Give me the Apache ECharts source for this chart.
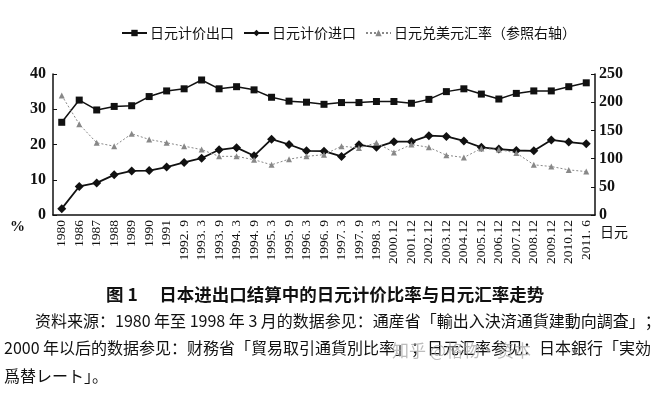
<!DOCTYPE html>
<html>
<head>
<meta charset="utf-8">
<script src="https://cdn.jsdelivr.net/npm/echarts@6/dist/echarts.min.js"></script>
<style>
html,body{margin:0;padding:0;background:#fff;}
#c{width:663px;height:400px;}
</style>
</head>
<body>
<div id="c"></div>
<script>
var categories = ['1980','1986','1987','1988','1989','1990','1991','1992. 9','1993. 3','1993. 9','1994. 3','1994. 9','1995. 3','1995. 9','1996. 3','1996. 9','1997. 3','1997. 9','1998. 3','2000.12','2001.12','2002.12','2003.12','2004.12','2005.12','2006.12','2007.12','2008.12','2009.12','2010.12','2011. 6'];
var exportShare = [26.3,32.6,29.8,30.8,31.0,33.6,35.2,35.8,38.3,35.8,36.4,35.5,33.4,32.3,32.0,31.4,31.9,31.9,32.2,32.2,31.7,32.8,35.0,35.8,34.3,32.9,34.5,35.2,35.2,36.4,37.5];
var importShare = [1.8,8.1,9.1,11.4,12.5,12.6,13.6,14.9,16.1,18.5,19.1,16.8,21.5,20.0,18.2,18.1,16.6,19.9,19.2,20.8,20.8,22.5,22.3,21.0,19.2,18.7,18.3,18.2,21.3,20.7,20.2];
var yenRate = [212,161,128,122,144,134,128,122,116,104,104,98,89,99,104,107,122,119,128,111,125,120,106,102,118,116,110,89,86,80,77];
var leftTicks = [0,10,20,30,40];
var rightTicks = [0,50,100,150,200,250];

var serif = 'Liberation Serif, DejaVu Serif, serif';
var cjk = 'Noto Sans CJK SC, sans-serif';

var chart = echarts.init(document.getElementById('c'));
chart.setOption({
  animation: false,
  backgroundColor: '#fff',
  legend: {
    left: 116, top: 21,
    itemWidth: 25, itemHeight: 8, itemGap: 9,
    textStyle: {fontFamily: cjk, fontSize: 14, color: '#111', padding: [0,0,0,-2]},
    data: ['日元计价出口','日元计价进口','日元兑美元汇率（参照右轴）']
  },
  grid: {left: 53, right: 68, top: 74, bottom: 185},
  xAxis: {
    type: 'category', data: categories, boundaryGap: true,
    axisLine: {lineStyle: {color: '#111', width: 1.5}},
    axisTick: {inside: true, length: 4, lineStyle: {color: '#111'}},
    axisLabel: {rotate: 90, interval: 0, fontFamily: serif, fontSize: 13.5, color: '#111', margin: 5}
  },
  yAxis: [{
    type: 'value', min: leftTicks[0], max: leftTicks[leftTicks.length-1], interval: 10,
    axisLine: {show: true, lineStyle: {color: '#111', width: 1.5}},
    axisTick: {show: true, inside: true, length: 4, lineStyle: {color: '#111'}},
    axisLabel: {fontFamily: serif, fontSize: 16, fontWeight: 'bold', color: '#111', margin: 7},
    splitLine: {show: false}
  },{
    type: 'value', min: rightTicks[0], max: rightTicks[rightTicks.length-1], interval: 50,
    position: 'right',
    axisLine: {show: true, lineStyle: {color: '#111', width: 1.5}},
    axisTick: {show: true, inside: true, length: 4, lineStyle: {color: '#111'}},
    axisLabel: {fontFamily: serif, fontSize: 16, fontWeight: 'bold', color: '#111', margin: 4},
    splitLine: {show: false}
  }],
  series: [{
    name: '日元计价出口', type: 'line', data: exportShare, yAxisIndex: 0,
    symbol: 'rect', symbolSize: 7,
    lineStyle: {color: '#111', width: 1.5}, itemStyle: {color: '#111'}
  },{
    name: '日元计价进口', type: 'line', data: importShare, yAxisIndex: 0,
    symbol: 'diamond', symbolSize: 9,
    lineStyle: {color: '#111', width: 1.8}, itemStyle: {color: '#111'}
  },{
    name: '日元兑美元汇率（参照右轴）', type: 'line', data: yenRate, yAxisIndex: 1,
    symbol: 'triangle', symbolSize: 6,
    lineStyle: {color: '#888', width: 1, type: [2,2]}, itemStyle: {color: '#888'}
  }],
  graphic: [
    {type: 'text', left: 10, top: 220, style: {text: '%', font: 'bold 15px ' + serif, fill: '#111'}},
    {type: 'text', left: 600, top: 225, style: {text: '日元', font: '14px ' + cjk, fill: '#111'}},
    {type: 'text', left: 106, top: 286, style: {text: '图 1　 日本进出口结算中的日元计价比率与日元汇率走势', font: 'bold 17.5px ' + cjk, fill: '#111'}},
    {type: 'text', left: 35, top: 313, style: {text: '资料来源：1980 年至 1998 年 3 月的数据参见：通産省「輸出入決済通貨建動向調査」；', font: '16px ' + cjk, fill: '#111'}},
    {type: 'text', left: 4, top: 340, style: {text: '2000 年以后的数据参见：财務省「貿易取引通貨別比率」；日元汇率参见：日本銀行「実効', font: '16px ' + cjk, fill: '#111'}},
    {type: 'text', left: 4, top: 368, style: {text: '爲替レート」。', font: '16px ' + cjk, fill: '#111'}},
    {type: 'text', left: 392, top: 342, style: {text: '知乎 @格物·资本', font: '17px ' + cjk, fill: 'rgba(160,160,160,0.7)'}}
  ]
});
</script>
</body>
</html>
